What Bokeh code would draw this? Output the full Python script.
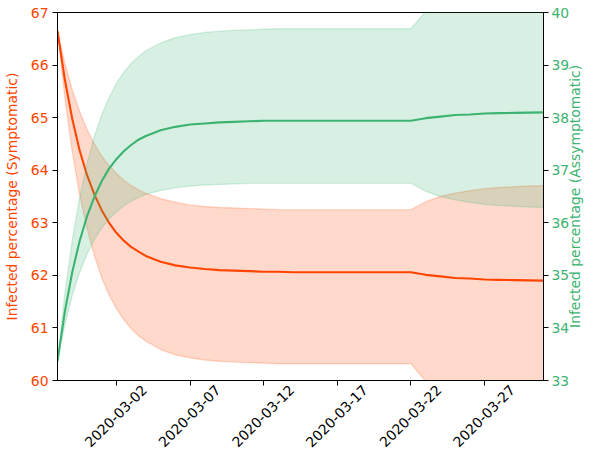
import math
import pandas as pd
from bokeh.plotting import figure
from bokeh.models import (Range1d, LinearAxis, FixedTicker, ColumnDataSource, CustomJSTickFormatter)
from bokeh.embed import file_html
from bokeh.resources import INLINE

# Sample times: half-day steps over the first six days, then daily
dates = list(pd.date_range("2020-02-27", "2020-03-04", freq="12h")) + \
        list(pd.date_range("2020-03-05", "2020-03-31", freq="D"))

# Symptomatic share (%) -- mean and band
sym_mean = [66.65, 65.72, 64.98, 64.38, 63.91, 63.54, 63.24, 63.00, 62.81, 62.66, 62.54, 62.45, 62.37,
            62.26, 62.19, 62.15, 62.12, 62.10, 62.09, 62.08, 62.07, 62.07, 62.06, 62.06, 62.06,
            62.06, 62.06, 62.06, 62.06, 62.06, 62.06,
            62.01, 61.98, 61.95, 61.94, 61.92, 61.915, 61.91, 61.905, 61.90]
sym_upper = [66.65, 66.03, 65.53, 65.12, 64.78, 64.50, 64.27, 64.09, 63.94, 63.81, 63.71, 63.63, 63.56,
             63.46, 63.39, 63.34, 63.31, 63.29, 63.28, 63.27, 63.26, 63.25, 63.25, 63.25, 63.25,
             63.25, 63.25, 63.25, 63.25, 63.25, 63.25,
             63.40, 63.50, 63.565, 63.61, 63.65, 63.67, 63.685, 63.70, 63.705]
sym_lower = [66.65, 65.38, 64.36, 63.54, 62.90, 62.38, 61.96, 61.63, 61.37, 61.16, 60.99, 60.85, 60.75,
             60.59, 60.49, 60.43, 60.39, 60.365, 60.35, 60.34, 60.33, 60.32, 60.32, 60.32, 60.32,
             60.32, 60.32, 60.32, 60.32, 60.32, 60.32,
             59.99, 59.85, 59.76, 59.70, 59.66, 59.63, 59.61, 59.60, 59.59]

# Asymptomatic share (%) -- mean and band
asym_mean = [33.37, 34.31, 35.06, 35.65, 36.12, 36.49, 36.79, 37.03, 37.21, 37.36, 37.48, 37.58, 37.65,
             37.76, 37.825, 37.87, 37.89, 37.91, 37.92, 37.93, 37.94, 37.94, 37.94, 37.94, 37.94,
             37.94, 37.94, 37.94, 37.94, 37.94, 37.94,
             37.99, 38.02, 38.05, 38.06, 38.08, 38.085, 38.09, 38.095, 38.10]
asym_upper = [33.37, 34.64, 35.66, 36.47, 37.12, 37.64, 38.05, 38.38, 38.65, 38.86, 39.03, 39.16, 39.27,
              39.42, 39.52, 39.58, 39.62, 39.645, 39.66, 39.67, 39.68, 39.69, 39.69, 39.69, 39.69,
              39.69, 39.69, 39.69, 39.69, 39.69, 39.69,
              40.02, 40.20, 40.31, 40.38, 40.43, 40.46, 40.48, 40.49, 40.50]
asym_lower = [33.37, 34.06, 34.62, 35.05, 35.40, 35.68, 35.90, 36.07, 36.21, 36.32, 36.41, 36.48, 36.54,
              36.615, 36.665, 36.70, 36.72, 36.73, 36.74, 36.75, 36.75, 36.75, 36.75, 36.75, 36.75,
              36.75, 36.75, 36.75, 36.75, 36.75, 36.75,
              36.60, 36.50, 36.435, 36.39, 36.35, 36.33, 36.315, 36.30, 36.29]

tick_dates = ["2020-03-02", "2020-03-07", "2020-03-12", "2020-03-17", "2020-03-22", "2020-03-27"]
sym_ticks = [60, 61, 62, 63, 64, 65, 66, 67]
asym_ticks = [33, 34, 35, 36, 37, 38, 39, 40]

SYM_TITLE = "Infected percentage (Symptomatic)"
ASYM_TITLE = "Infected percentage (Assymptomatic)"

SYM_COLOR = "#ff4500"
ASYM_COLOR = "#3cb371"
FONT = "DejaVu Sans"
FONT_SIZE = "13.9px"

src = ColumnDataSource(dict(
    date=dates,
    sym_mean=sym_mean, sym_upper=sym_upper, sym_lower=sym_lower,
    asym_mean=asym_mean, asym_upper=asym_upper, asym_lower=asym_lower,
))

p = figure(width=594, height=454, x_axis_type="datetime",
           x_range=Range1d(dates[0], dates[-1]), y_range=Range1d(60, 67),
           output_backend="svg", toolbar_location=None,
           min_border_left=57, min_border_right=45, min_border_top=12, min_border_bottom=74)
p.extra_y_ranges = {"asym": Range1d(33, 40)}

p.xgrid.visible = False
p.ygrid.visible = False
p.outline_line_color = "black"
p.outline_line_alpha = 1.0
p.outline_line_width = 1
p.background_fill_color = "white"
p.border_fill_color = "white"

# Symptomatic band and line (left axis)
p.varea(x="date", y1="sym_lower", y2="sym_upper", source=src, fill_color=SYM_COLOR, fill_alpha=0.2)
p.line(x="date", y="sym_upper", source=src, color=SYM_COLOR, line_alpha=0.2, line_width=1.4)
p.line(x="date", y="sym_lower", source=src, color=SYM_COLOR, line_alpha=0.2, line_width=1.4)
p.line(x="date", y="sym_mean", source=src, color=SYM_COLOR, line_width=2.1)

# Asymptomatic band and line (right axis)
p.varea(x="date", y1="asym_lower", y2="asym_upper", source=src, fill_color=ASYM_COLOR, fill_alpha=0.2,
        y_range_name="asym")
p.line(x="date", y="asym_upper", source=src, color=ASYM_COLOR, line_alpha=0.2, line_width=1.4,
       y_range_name="asym")
p.line(x="date", y="asym_lower", source=src, color=ASYM_COLOR, line_alpha=0.2, line_width=1.4,
       y_range_name="asym")
p.line(x="date", y="asym_mean", source=src, color=ASYM_COLOR, line_width=2.1, y_range_name="asym")

empty_fmt = CustomJSTickFormatter(code="return '';")

# Bottom axis: tick marks only
xa = p.xaxis[0]
tick_ms = [pd.Timestamp(d).timestamp() * 1000 for d in tick_dates]
xa.ticker = FixedTicker(ticks=tick_ms)
xa.formatter = empty_fmt
xa.major_label_standoff = 0

# Second bottom axis carrying the rotated date labels; its ticks sit half a
# label-width to the right so each right-anchored label ends up centred
LABEL_SHIFT_MS = 1.9 * 86400000
date_axis = LinearAxis(ticker=FixedTicker(ticks=[t + LABEL_SHIFT_MS for t in tick_ms]),
                       formatter=CustomJSTickFormatter(
                           args=dict(shift=LABEL_SHIFT_MS),
                           code="return new Date(tick - shift).toISOString().slice(0, 10);"))
date_axis.axis_line_color = None
date_axis.major_tick_line_color = None
date_axis.major_tick_out = 0
date_axis.major_tick_in = 0
date_axis.minor_tick_line_color = None
date_axis.major_label_orientation = math.pi / 4
date_axis.major_label_text_font = FONT
date_axis.major_label_text_font_size = FONT_SIZE
date_axis.major_label_text_color = "black"
date_axis.major_label_standoff = 2
p.add_layout(date_axis, "below")

ya = p.yaxis[0]
ya.axis_label = SYM_TITLE
ya.ticker = FixedTicker(ticks=sym_ticks)
ya.major_label_text_color = SYM_COLOR
ya.axis_label_text_color = SYM_COLOR
ya.axis_label_text_font = FONT
ya.axis_label_text_font_size = FONT_SIZE
ya.axis_label_text_font_style = "normal"
ya.axis_label_standoff = 8
ya.major_label_standoff = 4

right = LinearAxis(y_range_name="asym", ticker=FixedTicker(ticks=asym_ticks))
right.major_label_text_color = ASYM_COLOR
right.major_label_standoff = 3
p.add_layout(right, "right")

# Right-hand title, reading bottom to top: a single rotated tick label whose
# start sits low on the axis so the text is centred on the plot height
TITLE_START = 34.0
right_title = LinearAxis(y_range_name="asym", ticker=FixedTicker(ticks=[TITLE_START]),
                         formatter=CustomJSTickFormatter(args=dict(title=ASYM_TITLE),
                                                         code="return title;"))
right_title.axis_line_color = None
right_title.major_tick_line_color = None
right_title.minor_tick_line_color = None
right_title.major_tick_out = 0
right_title.major_tick_in = 0
right_title.major_label_orientation = math.pi / 2
right_title.major_label_text_color = ASYM_COLOR
right_title.major_label_text_font = FONT
right_title.major_label_text_font_size = FONT_SIZE
right_title.major_label_text_line_height = 0.7
right_title.major_label_standoff = 3
p.add_layout(right_title, "right")

for ax in (xa, ya, right):
    ax.axis_line_color = "black"
    ax.major_tick_line_color = "black"
    ax.major_tick_in = 0
    ax.major_tick_out = 5
    ax.minor_tick_line_color = None

for ax in (ya, right):
    ax.major_label_text_font = FONT
    ax.major_label_text_font_size = FONT_SIZE

open("out.html", "w").write(file_html(p, INLINE))
